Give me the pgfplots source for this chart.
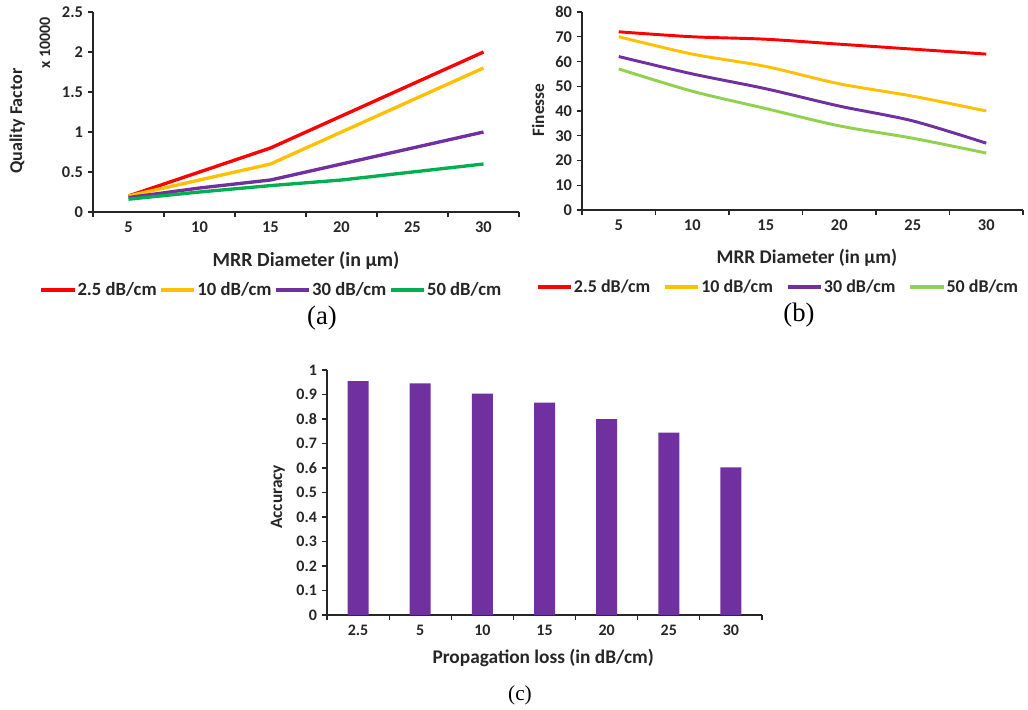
\documentclass[border=0pt]{standalone}
\usepackage{fontspec}
\setmainfont{Carlito}
\newfontfamily\seriffont{Liberation Serif}
\usepackage{pgfplots}
\pgfplotsset{compat=1.18}
\definecolor{cred}{HTML}{FF0000}
\definecolor{cyel}{HTML}{FFC000}
\definecolor{cpur}{HTML}{7030A0}
\definecolor{cgrn}{HTML}{00B050}
\definecolor{clgrn}{HTML}{92D050}
\definecolor{txt}{HTML}{262626}
\pgfplotsset{
  base/.style={
    scale only axis,
    clip mode=individual,
    axis x line*=bottom, axis y line*=left,
    axis line style={line width=0.8pt, black!85},
    tick align=outside,
    major tick length=4pt, minor tick length=4pt,
    tick style={line width=0.8pt, black!85},
    major x tick style={draw=none},
    /pgf/number format/assume math mode=true,
    label style={text=txt},
    tick label style={text=txt},
  }
}
\begin{document}
\begin{tikzpicture}
\path (0,0) rectangle (771pt,-529.5pt);
% ---------------- (a)
\begin{axis}[base,
  at={(69.75pt,-9pt)}, anchor=north west,
  width=319.5pt, height=150pt,
  xmin=0.5, xmax=6.5, ymin=0, ymax=2.5,
  xtick={1,2,3,4,5,6}, xticklabels={5,10,15,20,25,30},
  minor xtick={0.5,1.5,2.5,3.5,4.5,5.5,6.5},
  ytick={0,0.5,1,1.5,2,2.5},
  tick label style={font=\fontsize{12.3}{14}\selectfont\bfseries},
  xlabel={MRR Diameter (in µm)},
  xlabel style={at={(axis description cs:0.5,-0.245)}, anchor=center, font=\fontsize{15}{17}\selectfont\bfseries},
  ylabel={Quality Factor},
  ylabel style={at={(axis description cs:-0.178,0.455)}, anchor=center, font=\fontsize{13.5}{16}\selectfont\bfseries},
  legend columns=4,
  legend image code/.code={\draw[#1, line width=2.5pt] (0pt,0pt) -- (25pt,0pt);},
  legend style={draw=none, fill=none, at={(axis description cs:0.418,-0.39)}, anchor=center,
    font=\fontsize{14}{16}\selectfont\bfseries, text=txt,
    nodes={inner xsep=1pt},
    /tikz/every even column/.append style={column sep=1pt}},
]
\addplot[cred, line width=2.5pt] coordinates {(1,0.2) (2,0.5) (3,0.8) (4,1.2) (5,1.6) (6,2.0)};
\addplot[cyel, line width=2.5pt] coordinates {(1,0.2) (2,0.4) (3,0.6) (4,1.0) (5,1.4) (6,1.8)};
\addplot[cpur, line width=2.5pt] coordinates {(1,0.18) (2,0.3) (3,0.4) (4,0.6) (5,0.8) (6,1.0)};
\addplot[cgrn, line width=2.5pt] coordinates {(1,0.16) (2,0.25) (3,0.33) (4,0.4) (5,0.5) (6,0.6)};
\legend{2.5 dB/cm,10 dB/cm,30 dB/cm,50 dB/cm}
\node[rotate=90, font=\fontsize{12}{14}\selectfont\bfseries, text=txt] at (axis description cs:-0.113,0.845) {x 10000};
\end{axis}
% ---------------- (b)
\begin{axis}[base,
  at={(436.5pt,-9pt)}, anchor=north west,
  width=330.75pt, height=148.5pt,
  xmin=0.5, xmax=6.5, ymin=0, ymax=80,
  xtick={1,2,3,4,5,6}, xticklabels={5,10,15,20,25,30},
  minor xtick={0.5,1.5,2.5,3.5,4.5,5.5,6.5},
  ytick={0,10,20,30,40,50,60,70,80},
  tick label style={font=\fontsize{12.3}{14}\selectfont\bfseries},
  xlabel={MRR Diameter (in µm)},
  xlabel style={at={(axis description cs:0.510,-0.242)}, anchor=center, font=\fontsize{14.5}{17}\selectfont\bfseries},
  ylabel={Finesse},
  ylabel style={at={(axis description cs:-0.0998,0.505)}, anchor=center, font=\fontsize{13}{16}\selectfont\bfseries},
  legend columns=4,
  legend image code/.code={\draw[#1, line width=2.3pt, sharp plot] (0pt,0pt) -- (25pt,0pt);},
  legend style={draw=none, fill=none, at={(axis description cs:0.444,-0.389)}, anchor=center,
    font=\fontsize{13.5}{16}\selectfont\bfseries, text=txt,
    nodes={inner xsep=1pt},
    /tikz/every even column/.append style={column sep=9pt}},
]
\addplot[cred, line width=2.2pt, smooth] coordinates {(1,72) (2,70) (3,69) (4,67) (5,65) (6,63)};
\addplot[cyel, line width=2.2pt, smooth] coordinates {(1,70) (2,63) (3,58) (4,51) (5,46) (6,40)};
\addplot[cpur, line width=2.2pt, smooth] coordinates {(1,62) (2,55) (3,49) (4,42) (5,36) (6,27)};
\addplot[clgrn, line width=2.2pt, smooth] coordinates {(1,57) (2,48) (3,41) (4,34) (5,29) (6,23)};
\legend{2.5 dB/cm,10 dB/cm,30 dB/cm,50 dB/cm}
\end{axis}
% ---------------- (c)
\begin{axis}[base,
  at={(245.25pt,-277.5pt)}, anchor=north west,
  width=326.25pt, height=183.75pt,
  xmin=0.5, xmax=7.5, ymin=0, ymax=1,
  ybar, bar width=15.75pt,
  xtick={1,2,3,4,5,6,7}, xticklabels={2.5,5,10,15,20,25,30},
  minor xtick={0.5,1.5,2.5,3.5,4.5,5.5,6.5,7.5},
  ytick={0,0.1,0.2,0.3,0.4,0.5,0.6,0.7,0.8,0.9,1},
  tick label style={font=\fontsize{12}{14}\selectfont\bfseries},
  xlabel={Propagation loss (in dB/cm)},
  xlabel style={at={(axis description cs:0.497,-0.176)}, anchor=center, font=\fontsize{14.5}{17}\selectfont\bfseries},
  ylabel={Accuracy},
  ylabel style={at={(axis description cs:-0.113,0.482)}, anchor=center, font=\fontsize{13}{16}\selectfont\bfseries},
]
\addplot[fill=cpur, draw=none] coordinates {(1,0.955) (2,0.945) (3,0.904) (4,0.867) (5,0.80) (6,0.744) (7,0.603)};
\end{axis}
% panel labels
\node[font=\seriffont\fontsize{20}{22}\selectfont] at (241.5pt,-238.5pt) {(a)};
\node[font=\seriffont\fontsize{20}{22}\selectfont] at (599.25pt,-236.25pt) {(b)};
\node[font=\seriffont\fontsize{16}{18}\selectfont] at (390pt,-521.25pt) {(c)};
\end{tikzpicture}
\end{document}
